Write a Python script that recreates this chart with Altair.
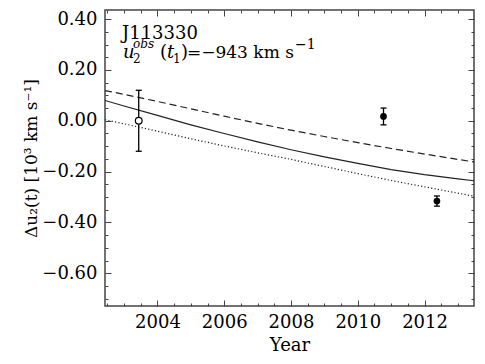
import altair as alt
import pandas as pd

# ---- data ----
model_years = [2002.43, 2003, 2004, 2005, 2006, 2007, 2008, 2009, 2010, 2011, 2012, 2013, 2013.48]
model_solid = [0.080, 0.058, 0.021, -0.016, -0.050, -0.083, -0.114, -0.142, -0.168, -0.192, -0.212, -0.229, -0.236]
model_dashed = [0.119, 0.104, 0.076, 0.047, 0.018, -0.010, -0.037, -0.062, -0.086, -0.109, -0.131, -0.152, -0.162]
model_dotted = [0.004, -0.012, -0.041, -0.071, -0.099, -0.126, -0.152, -0.180, -0.208, -0.235, -0.260, -0.285, -0.297]

obs_year = [2003.44, 2010.77, 2012.37]
obs_val = [0.0, 0.017, -0.316]
obs_err = [0.12, 0.033, 0.02]
obs_filled = [False, True, True]

x_major = [2004, 2006, 2008, 2010, 2012]
x_minor = [2002.5 + 0.5 * i for i in range(23)]
y_major = [-0.6, -0.4, -0.2, 0.0, 0.2, 0.4]
y_minor = [round(-0.70 + 0.05 * i, 2) for i in range(23)]

X_DOMAIN = [2002.43, 2013.48]
Y_DOMAIN = [-0.729, 0.436]

FONT = "DejaVu Serif"
FRAME = "#444444"

model = pd.DataFrame({"year": model_years, "solid": model_solid,
                      "dashed": model_dashed, "dotted": model_dotted})
obs = pd.DataFrame({"year": obs_year, "val": obs_val, "err": obs_err, "filled": obs_filled})
obs["lo"] = obs["val"] - obs["err"]
obs["hi"] = obs["val"] + obs["err"]

xs = alt.Scale(domain=X_DOMAIN, nice=False, zero=False)
ys = alt.Scale(domain=Y_DOMAIN, nice=False, zero=False)


def xaxis(orient, values, size, labels, title=None):
    kw = dict(orient=orient, values=values, tickSize=size, offset=-size, domain=False,
              grid=False, tickColor=FRAME, tickWidth=1, labels=labels)
    if labels:
        kw.update(format="d", labelFont=FONT, labelFontSize=18, labelColor="black",
                  labelPadding=7, labelFlush=False)
    if title:
        kw.update(title=title, titleFont=FONT, titleFontSize=18, titleFontWeight="normal",
                  titleColor="black", titlePadding=5)
    else:
        kw.update(title=None)
    return alt.Axis(**kw)


def yaxis(orient, values, size, labels, title=None):
    kw = dict(orient=orient, values=values, tickSize=size, offset=-size, domain=False,
              grid=False, tickColor=FRAME, tickWidth=1, labels=labels)
    if labels:
        kw.update(format=".2f", labelFont=FONT, labelFontSize=18, labelColor="black",
                  labelPadding=8, labelFlush=False)
    if title:
        kw.update(title=title, titleFont=FONT, titleFontSize=17, titleFontWeight="normal",
                  titleColor="black", titleAngle=270, titleAlign="center",
                  titleBaseline="alphabetic", titleX=-75, titleY=148)
    else:
        kw.update(title=None)
    return alt.Axis(**kw)


base = alt.Chart(model)

solid = base.mark_line(color="#222222", strokeWidth=1.2, clip=True).encode(
    x=alt.X("year:Q", scale=xs, axis=xaxis("bottom", x_major, 6, True, "Year")),
    y=alt.Y("solid:Q", scale=ys, axis=yaxis("left", y_major, 6, True, "Δu₂(t) [10³ km s⁻¹]")),
)
dashed = base.mark_line(color="#222222", strokeWidth=1.2, strokeDash=[7, 4], clip=True).encode(
    x=alt.X("year:Q", scale=xs, axis=xaxis("bottom", x_minor, 3, False)),
    y=alt.Y("dashed:Q", scale=ys, axis=yaxis("left", y_minor, 3, False)),
)
dotted = base.mark_line(color="#222222", strokeWidth=1.2, strokeDash=[1.2, 2.2], clip=True).encode(
    x=alt.X("year:Q", scale=xs, axis=xaxis("top", x_major, 6, False)),
    y=alt.Y("dotted:Q", scale=ys, axis=yaxis("right", y_major, 6, False)),
)

obase = alt.Chart(obs)
bars = obase.mark_rule(color="black", strokeWidth=1.3).encode(
    x=alt.X("year:Q", scale=xs, axis=xaxis("top", x_minor, 3, False)),
    y=alt.Y("lo:Q", scale=ys, axis=yaxis("right", y_minor, 3, False)),
    y2="hi:Q",
)
cap_hi = obase.mark_rule(color="black", strokeWidth=1.3, xOffset=-3, x2Offset=3).encode(
    x=alt.X("year:Q", scale=xs, axis=None), x2="year:Q",
    y=alt.Y("hi:Q", scale=ys, axis=None),
)
cap_lo = obase.mark_rule(color="black", strokeWidth=1.3, xOffset=-3, x2Offset=3).encode(
    x=alt.X("year:Q", scale=xs, axis=None), x2="year:Q",
    y=alt.Y("lo:Q", scale=ys, axis=None),
)
open_pts = obase.transform_filter("!datum.filled").mark_point(
    shape="circle", filled=True, fill="white", stroke="black", strokeWidth=1.2, size=45, opacity=1
).encode(
    x=alt.X("year:Q", scale=xs, axis=None),
    y=alt.Y("val:Q", scale=ys, axis=None),
)
filled_pts = obase.transform_filter("datum.filled").mark_circle(
    color="black", size=45, opacity=1
).encode(
    x=alt.X("year:Q", scale=xs, axis=None),
    y=alt.Y("val:Q", scale=ys, axis=None),
)


def label(txt, x, y, size, italic=False):
    return alt.Chart(pd.DataFrame({"t": [txt]})).mark_text(
        font=FONT, fontSize=size, fontStyle="italic" if italic else "normal",
        align="left", baseline="alphabetic", color="black"
    ).encode(text="t:N", x=alt.value(x), y=alt.value(y))


texts = [
    label("J113330", 17, 29, 18),
    label("u", 18, 48, 18, True),
    label("2", 28, 53, 12),
    label("obs", 28, 38, 12, True),
    label("(", 55, 48, 18),
    label("t", 62, 48, 18, True),
    label("1", 68, 53, 12),
    label(")", 76, 48, 18),
    label("=−943 km s", 82, 48, 17),
    label("−1", 190, 39, 14),
]

chart = alt.layer(solid, dashed, dotted, bars, cap_hi, cap_lo, open_pts, filled_pts, *texts).resolve_axis(
    x="independent", y="independent"
).properties(
    width=369, height=296,
    autosize=alt.AutoSizeParams(type="none"),
    padding={"left": 97, "top": 2, "right": 3, "bottom": 50},
).configure_view(stroke=FRAME, strokeWidth=1.5)

chart.save("out.html", embed_options={"renderer": "svg", "actions": False})
